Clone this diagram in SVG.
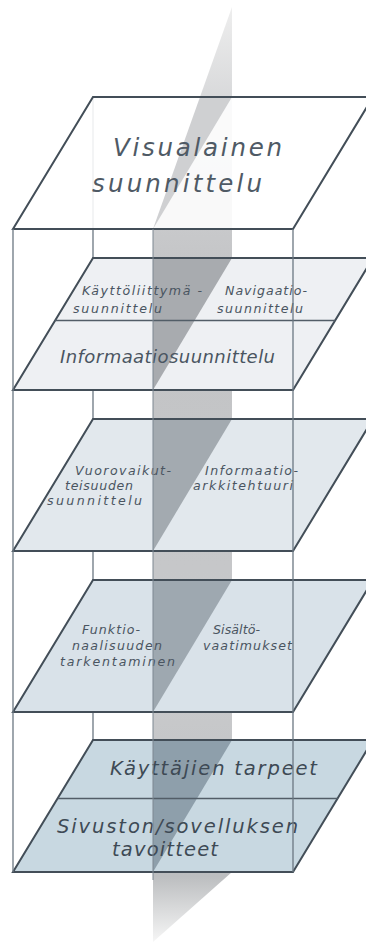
<svg xmlns="http://www.w3.org/2000/svg" width="366" height="942" viewBox="0 0 366 942">
  <defs>
    <linearGradient id="planeGrad" gradientUnits="userSpaceOnUse" x1="0" y1="7" x2="0" y2="942">
      <stop offset="0" stop-color="#eeeeee"/>
      <stop offset="0.12" stop-color="#d3d4d6"/>
      <stop offset="0.3" stop-color="#c2c3c5"/>
      <stop offset="0.75" stop-color="#c8c9cb"/>
      <stop offset="0.93" stop-color="#bcbec0"/>
      <stop offset="1" stop-color="#f6f6f6"/>
    </linearGradient>
    <style>
      .edge { fill: none; stroke: #434e58; stroke-width: 2; stroke-linejoin: miter; }
      .frame { stroke: #6b7782; stroke-width: 1.3; }
      .divider { stroke: #525d67; stroke-width: 1.4; }
      .lbl { font-family: "DejaVu Sans", "Open Sans", sans-serif; font-style: italic; fill: #4a5561; }
      .big { font-size: 24.5px; fill: #4f5a65; }
      .mid { font-size: 18px; }
      .sm { font-size: 12.6px; }
      .base { font-size: 19.5px; fill: #3e4a55; }
    </style>
  </defs>

  <!-- hidden back edge of the box -->
  <line class="frame" x1="93" y1="97" x2="93" y2="740"/>

  <!-- vertical cutting plane -->
  <polygon id="plane" points="232,7 232,872 153,942 153,229" fill="url(#planeGrad)"/>

  <!-- layer 1: visual design -->
  <g id="layer-visual">
    <polygon points="93,97 373,97 293,229 13,229" fill="#ffffff" fill-opacity="0.88"/>
    <polygon points="200,97 232,97 153,229" fill="#cfd0d2"/>
    <polygon class="edge" points="93,97 373,97 293,229 13,229"/>
    <text class="lbl big" x="113" y="156" textLength="169" lengthAdjust="spacing">Visualainen</text>
    <text class="lbl big" x="92" y="192" textLength="170" lengthAdjust="spacing">suunnittelu</text>
  </g>

  <!-- layer 2: interface, navigation and information design -->
  <g id="layer-information">
    <polygon points="93,258 373,258 293,390 13,390" fill="#eef0f3"/>
    <polygon points="153,258 232,258 153,390" fill="#a8abaf"/>
    <polygon class="edge" points="93,258 373,258 293,390 13,390"/>
    <line class="divider" x1="55" y1="320.5" x2="335" y2="320.5"/>
    <text class="lbl sm" x="82" y="295" textLength="120" lengthAdjust="spacing">Käyttöliittymä -</text>
    <text class="lbl sm" x="73" y="313" textLength="89" lengthAdjust="spacing">suunnittelu</text>
    <text class="lbl sm" x="225" y="295" textLength="82" lengthAdjust="spacing">Navigaatio-</text>
    <text class="lbl sm" x="217" y="313" textLength="86" lengthAdjust="spacing">suunnittelu</text>
    <text class="lbl mid" x="60" y="363" textLength="215" lengthAdjust="spacing">Informaatiosuunnittelu</text>
  </g>

  <!-- layer 3: interaction design and information architecture -->
  <g id="layer-structure">
    <polygon points="93,419 373,419 293,551 13,551" fill="#e2e8ed"/>
    <polygon points="153,419 232,419 153,551" fill="#a3aab0"/>
    <polygon class="edge" points="93,419 373,419 293,551 13,551"/>
    <text class="lbl sm" x="75" y="475" textLength="96" lengthAdjust="spacing">Vuorovaikut-</text>
    <text class="lbl sm" x="65" y="490" textLength="68" lengthAdjust="spacing">teisuuden</text>
    <text class="lbl sm" x="47" y="505" textLength="95" lengthAdjust="spacing">suunnittelu</text>
    <text class="lbl sm" x="205" y="475" textLength="93" lengthAdjust="spacing">Informaatio-</text>
    <text class="lbl sm" x="193" y="490" textLength="100" lengthAdjust="spacing">arkkitehtuuri</text>
  </g>

  <!-- layer 4: functional specification and content requirements -->
  <g id="layer-scope">
    <polygon points="93,580 373,580 293,712 13,712" fill="#d9e2e9"/>
    <polygon points="153,580 232,580 153,712" fill="#9ea8b0"/>
    <polygon class="edge" points="93,580 373,580 293,712 13,712"/>
    <text class="lbl sm" x="82" y="634" textLength="58" lengthAdjust="spacing">Funktio-</text>
    <text class="lbl sm" x="72" y="650" textLength="90" lengthAdjust="spacing">naalisuuden</text>
    <text class="lbl sm" x="60" y="666" textLength="115" lengthAdjust="spacing">tarkentaminen</text>
    <text class="lbl sm" x="213" y="634" textLength="47" lengthAdjust="spacing">Sisältö-</text>
    <text class="lbl sm" x="203" y="650" textLength="89" lengthAdjust="spacing">vaatimukset</text>
  </g>

  <!-- layer 5: user needs and site objectives -->
  <g id="layer-strategy">
    <polygon points="93,740 373,740 293,872 13,872" fill="#c8d8e1"/>
    <polygon points="153,740 232,740 153,872" fill="#8e9fab"/>
    <polygon class="edge" points="93,740 373,740 293,872 13,872"/>
    <line class="divider" x1="58" y1="798.5" x2="338" y2="798.5"/>
    <text class="lbl base" x="110" y="775" textLength="207" lengthAdjust="spacing">Käyttäjien tarpeet</text>
    <text class="lbl base" x="57" y="833" textLength="241" lengthAdjust="spacing">Sivuston/sovelluksen</text>
    <text class="lbl base" x="112" y="856" textLength="106" lengthAdjust="spacing">tavoitteet</text>
  </g>

  <!-- front edges of the box and of the cutting plane -->
  <g id="connectors">
    <line class="frame" x1="13" y1="229" x2="13" y2="872"/>
    <line class="frame" x1="293" y1="229" x2="293" y2="872"/>
    <line x1="153" y1="229" x2="153" y2="880" stroke="#7d8791" stroke-width="1"/>
  </g>
</svg>
